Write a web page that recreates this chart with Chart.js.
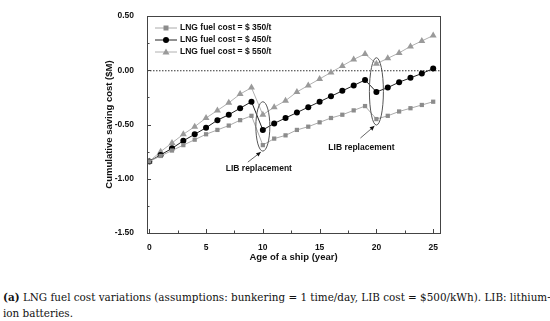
<!DOCTYPE html>
<html>
<head>
<meta charset="utf-8">
<script src="https://cdn.jsdelivr.net/npm/chart.js@4.4.1/dist/chart.umd.min.js"></script>
<style>
  body { margin: 0; background: #fff; width: 550px; height: 321px; overflow: hidden; }
  #wrap { position: absolute; left: 0; top: 0; width: 550px; height: 275px; }
  #caption { position: absolute; left: 3px; top: 289px; width: 547px; white-space: nowrap;
    font-family: "DejaVu Serif", serif; font-size: 10.4px; line-height: 16px; color: #111; }
</style>
</head>
<body>
<div id="wrap"><canvas id="chart"></canvas></div>
<div id="caption"><b>(a)</b> LNG fuel cost variations (assumptions: bunkering = 1 time/day, LIB cost = $500/kWh). LIB: lithium-<br>ion batteries.</div>
<script>
const years = [0, 1, 2, 3, 4, 5, 6, 7, 8, 9, 10, 11, 12, 13, 14, 15, 16, 17, 18, 19, 20, 21, 22, 23, 24, 25];
const cost350 = [-0.84, -0.79, -0.74, -0.69, -0.64, -0.59, -0.55, -0.51, -0.46, -0.42, -0.69, -0.63, -0.60, -0.55, -0.52, -0.48, -0.44, -0.41, -0.37, -0.33, -0.45, -0.42, -0.38, -0.35, -0.32, -0.29];
const cost450 = [-0.84, -0.78, -0.72, -0.65, -0.59, -0.53, -0.46, -0.41, -0.35, -0.29, -0.55, -0.49, -0.44, -0.39, -0.34, -0.29, -0.24, -0.19, -0.14, -0.09, -0.20, -0.16, -0.11, -0.07, -0.03, 0.015];
const cost550 = [-0.84, -0.75, -0.67, -0.59, -0.52, -0.44, -0.37, -0.30, -0.22, -0.16, -0.41, -0.34, -0.28, -0.20, -0.14, -0.08, -0.02, 0.04, 0.10, 0.15, 0.06, 0.11, 0.16, 0.22, 0.27, 0.32];
const seriesLabels = ['LNG fuel cost = $ 350/t', 'LNG fuel cost = $ 450/t', 'LNG fuel cost = $ 550/t'];
const xTicks = [0, 5, 10, 15, 20, 25];
const yTicks = [0.5, 0, -0.5, -1, -1.5];
const replaceYears = [10, 20];

const boldFont = 'bold 8.5px "Liberation Sans", Arial, sans-serif';

function toPoints(vals) {
    return years.map((x, i) => ({ x: x, y: vals[i] }));
}

// box, inward ticks, zero line
const framePlugin = {
    id: 'frame',
    beforeDatasetsDraw(chart) {
        const { ctx, chartArea: a, scales: { y } } = chart;
        ctx.save();
        ctx.strokeStyle = '#333';
        ctx.lineWidth = 1;
        ctx.setLineDash([1.5, 1.5]);
        ctx.beginPath();
        ctx.moveTo(a.left, y.getPixelForValue(0) + 0.5);
        ctx.lineTo(a.right, y.getPixelForValue(0) + 0.5);
        ctx.stroke();
        ctx.restore();
    },
    afterDraw(chart) {
        const { ctx, chartArea: a, scales: { x, y } } = chart;
        ctx.save();
        ctx.strokeStyle = '#444';
        ctx.lineWidth = 1;
        ctx.strokeRect(a.left + 0.5, a.top + 0.5, a.right - a.left, a.bottom - a.top);
        ctx.beginPath();
        for (let v = 0; v <= 25; v += 2.5) {
            const px = Math.round(x.getPixelForValue(v)) + 0.5;
            const len = v % 5 === 0 ? 4 : 2.5;
            ctx.moveTo(px, a.bottom);
            ctx.lineTo(px, a.bottom - len);
        }
        for (let v = -1.5; v <= 0.5; v += 0.25) {
            const py = Math.round(y.getPixelForValue(v)) + 0.5;
            const len = Math.abs(v * 2 - Math.round(v * 2)) < 1e-6 ? 4 : 2.5;
            ctx.moveTo(a.left, py);
            ctx.lineTo(a.left + len, py);
        }
        ctx.stroke();
        ctx.restore();
    }
};

// legend + LIB replacement notes
const notesPlugin = {
    id: 'notes',
    afterDraw(chart) {
        const { ctx, scales: { x, y } } = chart;
        ctx.save();
        // legend
        chart.data.datasets.forEach((ds, i) => {
            const ly = 28 + i * 12;
            ctx.strokeStyle = ds.borderColor;
            ctx.lineWidth = 1;
            ctx.beginPath();
            ctx.moveTo(155, ly);
            ctx.lineTo(177, ly);
            ctx.stroke();
            ctx.fillStyle = ds.pointBackgroundColor;
            const cx = 166;
            ctx.beginPath();
            if (ds.pointStyle === 'rect') {
                ctx.rect(cx - 2.5, ly - 2.5, 5, 5);
            } else if (ds.pointStyle === 'triangle') {
                ctx.moveTo(cx, ly - 3.5);
                ctx.lineTo(cx + 3.5, ly + 2.5);
                ctx.lineTo(cx - 3.5, ly + 2.5);
                ctx.closePath();
            } else {
                ctx.arc(cx, ly, 3, 0, Math.PI * 2);
            }
            ctx.fill();
            ctx.fillStyle = '#111';
            ctx.font = boldFont;
            ctx.textAlign = 'left';
            ctx.textBaseline = 'middle';
            ctx.fillText(ds.label, 180, ly);
        });

        // ellipses around the drops
        const topPad = [13, 6];
        replaceYears.forEach((yr, k) => {
            const i = years.indexOf(yr);
            const top = y.getPixelForValue(cost550[i]) - topPad[k];
            const bot = y.getPixelForValue(cost350[i]) + 6;
            const cx = x.getPixelForValue(yr);
            ctx.strokeStyle = '#555';
            ctx.lineWidth = 1;
            ctx.beginPath();
            ctx.ellipse(cx, (top + bot) / 2, 7, (bot - top) / 2, 0, 0, Math.PI * 2);
            ctx.stroke();

            // arrow to the ellipse bottom
            const tipX = cx - 2, tipY = bot + 1;
            const tailX = k === 0 ? cx - 15 : cx - 16;
            const tailY = k === 0 ? bot + 11 : bot + 13;
            ctx.strokeStyle = '#666';
            ctx.beginPath();
            ctx.moveTo(tailX, tailY);
            ctx.lineTo(tipX, tipY);
            ctx.stroke();
            const ang = Math.atan2(tipY - tailY, tipX - tailX);
            ctx.fillStyle = '#111';
            ctx.beginPath();
            ctx.moveTo(tipX, tipY);
            ctx.lineTo(tipX - 5 * Math.cos(ang - 0.45), tipY - 5 * Math.sin(ang - 0.45));
            ctx.lineTo(tipX - 5 * Math.cos(ang + 0.45), tipY - 5 * Math.sin(ang + 0.45));
            ctx.closePath();
            ctx.fill();

            ctx.fillStyle = '#111';
            ctx.font = boldFont;
            ctx.textAlign = 'center';
            ctx.textBaseline = 'middle';
            const tx = k === 0 ? cx - 4 : cx - 15;
            const ty = k === 0 ? tailY + 7 : tailY + 10;
            ctx.fillText('LIB replacement', tx, ty);
        });
        ctx.restore();
    }
};

new Chart(document.getElementById('chart'), {
    type: 'line',
    data: {
        datasets: [
            {
                label: seriesLabels[0],
                data: toPoints(cost350),
                borderColor: '#aaaaaa',
                borderWidth: 1,
                pointStyle: 'rect',
                pointRadius: 3,
                pointBackgroundColor: '#8c8c8c',
                pointBorderWidth: 0
            },
            {
                label: seriesLabels[1],
                data: toPoints(cost450),
                borderColor: '#222222',
                borderWidth: 1,
                pointStyle: 'circle',
                pointRadius: 3,
                pointBackgroundColor: '#000000',
                pointBorderWidth: 0
            },
            {
                label: seriesLabels[2],
                data: toPoints(cost550),
                borderColor: '#b0b0b0',
                borderWidth: 1,
                pointStyle: 'triangle',
                pointRadius: 4,
                pointBackgroundColor: '#9a9a9a',
                pointBorderWidth: 0
            }
        ]
    },
    options: {
        responsive: true,
        maintainAspectRatio: false,
        animation: false,
        events: [],
        layout: { padding: { left: 104, right: 110, top: 16, bottom: 12 } },
        plugins: {
            legend: { display: false },
            tooltip: { enabled: false }
        },
        scales: {
            x: {
                type: 'linear',
                min: -0.2,
                max: 25.6,
                grid: { display: false },
                border: { display: false },
                afterFit(scale) { scale.height = 30; },
                afterBuildTicks(scale) { scale.ticks = xTicks.map(v => ({ value: v })); },
                ticks: {
                    padding: 2,
                    color: '#111',
                    font: { family: '"Liberation Sans", Arial, sans-serif', size: 8.5, weight: 'bold' }
                },
                title: {
                    display: true,
                    text: 'Age of a ship (year)',
                    color: '#111',
                    padding: { top: 2, bottom: 0 },
                    font: { family: '"Liberation Sans", Arial, sans-serif', size: 9.5, weight: 'bold' }
                }
            },
            y: {
                min: -1.5,
                max: 0.5,
                grid: { display: false },
                border: { display: false },
                afterFit(scale) { scale.width = 43; },
                afterBuildTicks(scale) { scale.ticks = yTicks.map(v => ({ value: v })); },
                ticks: {
                    padding: 5,
                    color: '#111',
                    font: { family: '"Liberation Sans", Arial, sans-serif', size: 8.5, weight: 'bold' },
                    callback: v => v.toFixed(2)
                },
                title: {
                    display: true,
                    text: 'Cumulative saving cost ($M)',
                    color: '#111',
                    padding: 0,
                    font: { family: '"Liberation Sans", Arial, sans-serif', size: 9.5, weight: 'bold' }
                }
            }
        }
    },
    plugins: [framePlugin, notesPlugin]
});
</script>
</body>
</html>
